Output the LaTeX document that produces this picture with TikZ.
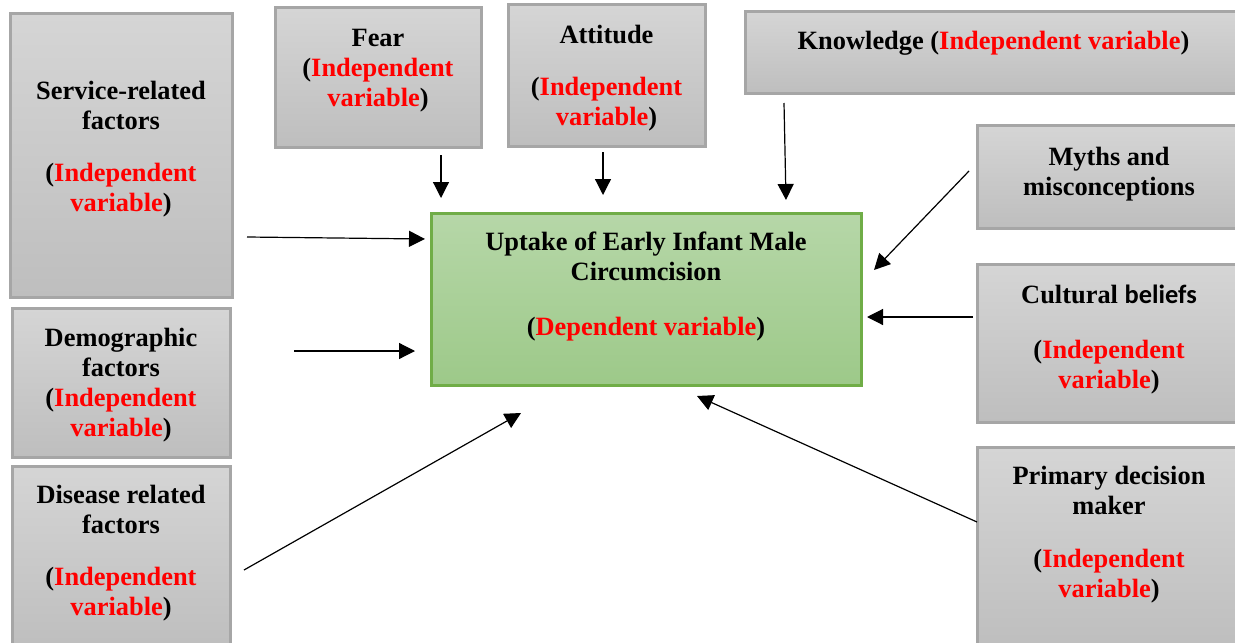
\documentclass[tikz,border=0pt]{standalone}
\usepackage{fontspec}
\setmainfont{Liberation Serif}
\newfontfamily\calibrifont{Carlito}
\usetikzlibrary{arrows.meta}
\definecolor{ivred}{RGB}{255,0,0}
\definecolor{boxtop}{RGB}{213,213,213}
\definecolor{boxbot}{RGB}{190,190,190}
\definecolor{boxline}{RGB}{166,166,166}
\definecolor{dvtop}{RGB}{182,215,168}
\definecolor{dvbot}{RGB}{157,201,137}
\definecolor{dvline}{RGB}{112,173,71}
\newcommand{\redtxt}[1]{\textcolor{ivred}{#1}}
\newcommand{\lift}[1]{\rule[-#1]{0pt}{0pt}}
\newcommand{\drop}[1]{\rule{0pt}{#1}}
\tikzset{
  >={Triangle[length=8pt,width=8pt]},
  ivbox/.style={draw=boxline,line width=1.5pt,top color=boxtop,bottom color=boxbot,align=center,font=\fontsize{13.2}{15}\selectfont\bfseries,inner sep=2pt},
  dvbox/.style={ivbox,draw=dvline,top color=dvtop,bottom color=dvbot},
  link/.style={->,line width=0.6pt}
}
\begin{document}
\begin{tikzpicture}[x=0.5pt,y=-0.5pt]
\useasboundingbox (0,0) rectangle (1235,642);
\node[ivbox,minimum width=111pt,minimum height=141.5pt](service)at(121,155.5){Service-related\\factors\\[11pt](\redtxt{Independent}\\\redtxt{variable})\lift{9.5pt}};
\node[ivbox,minimum width=109pt,minimum height=74.5pt](demog)at(121,382.5){\drop{12pt}Demographic\\factors\\(\redtxt{Independent}\\\redtxt{variable})};
\node[ivbox,minimum width=109pt,minimum height=92pt](disease)at(121,558){Disease related\\factors\\[11pt](\redtxt{Independent}\\\redtxt{variable})\lift{8pt}};
\node[ivbox,minimum width=103pt,minimum height=69.5pt](fear)at(378,77.5){Fear\\(\redtxt{Independent}\\\redtxt{variable})\lift{9.5pt}};
\node[ivbox,minimum width=98.5pt,minimum height=70.5pt](attitude)at(606.5,75.5){\drop{12pt}Attitude\\[11pt](\redtxt{Independent}\\\redtxt{variable})};
\node[ivbox,minimum width=248pt,minimum height=41pt](knowledge)at(993.5,53){Knowledge (\redtxt{Independent variable})\lift{12.5pt}};
\node[ivbox,minimum width=132pt,minimum height=51.5pt](myths)at(1109,176.5){Myths and\\misconceptions\lift{5pt}};
\node[ivbox,minimum width=132pt,minimum height=79pt](cultural)at(1109,343){Cultural {\calibrifont beliefs}\\[12.5pt](\redtxt{Independent}\\\redtxt{variable})\lift{6pt}};
\node[ivbox,minimum width=132pt,minimum height=100.5pt](primary)at(1109,547.5){Primary decision\\maker\\[11.5pt](\redtxt{Independent}\\\redtxt{variable})\lift{16pt}};
\node[dvbox,minimum width=215pt,minimum height=86pt](uptake)at(646,299){Uptake of Early Infant Male\\Circumcision\\[12.5pt](\redtxt{Dependent variable})\lift{15pt}};
\coordinate(serviceA)at(247,237);\coordinate(serviceB)at(425,239);
\coordinate(demogA)at(294,351);\coordinate(demogB)at(415,351);
\coordinate(diseaseA)at(244,570);\coordinate(diseaseB)at(521,413);
\coordinate(fearA)at(441,155);\coordinate(fearB)at(441,198);
\coordinate(attitudeA)at(603,152);\coordinate(attitudeB)at(603,195);
\coordinate(knowA)at(784,103);\coordinate(knowB)at(786,200);
\coordinate(mythsA)at(969,171);\coordinate(mythsB)at(874,270);
\coordinate(cultA)at(973,317);\coordinate(cultB)at(867,317);
\coordinate(primA)at(977,522);\coordinate(primB)at(697,396);
\draw[link](serviceA)--(serviceB);\draw[link](demogA)--(demogB);
\draw[link](diseaseA)--(diseaseB);\draw[link](fearA)--(fearB);
\draw[link](attitudeA)--(attitudeB);\draw[link](knowA)--(knowB);
\draw[link](mythsA)--(mythsB);\draw[link](cultA)--(cultB);
\draw[link](primA)--(primB);
\end{tikzpicture}
\end{document}
